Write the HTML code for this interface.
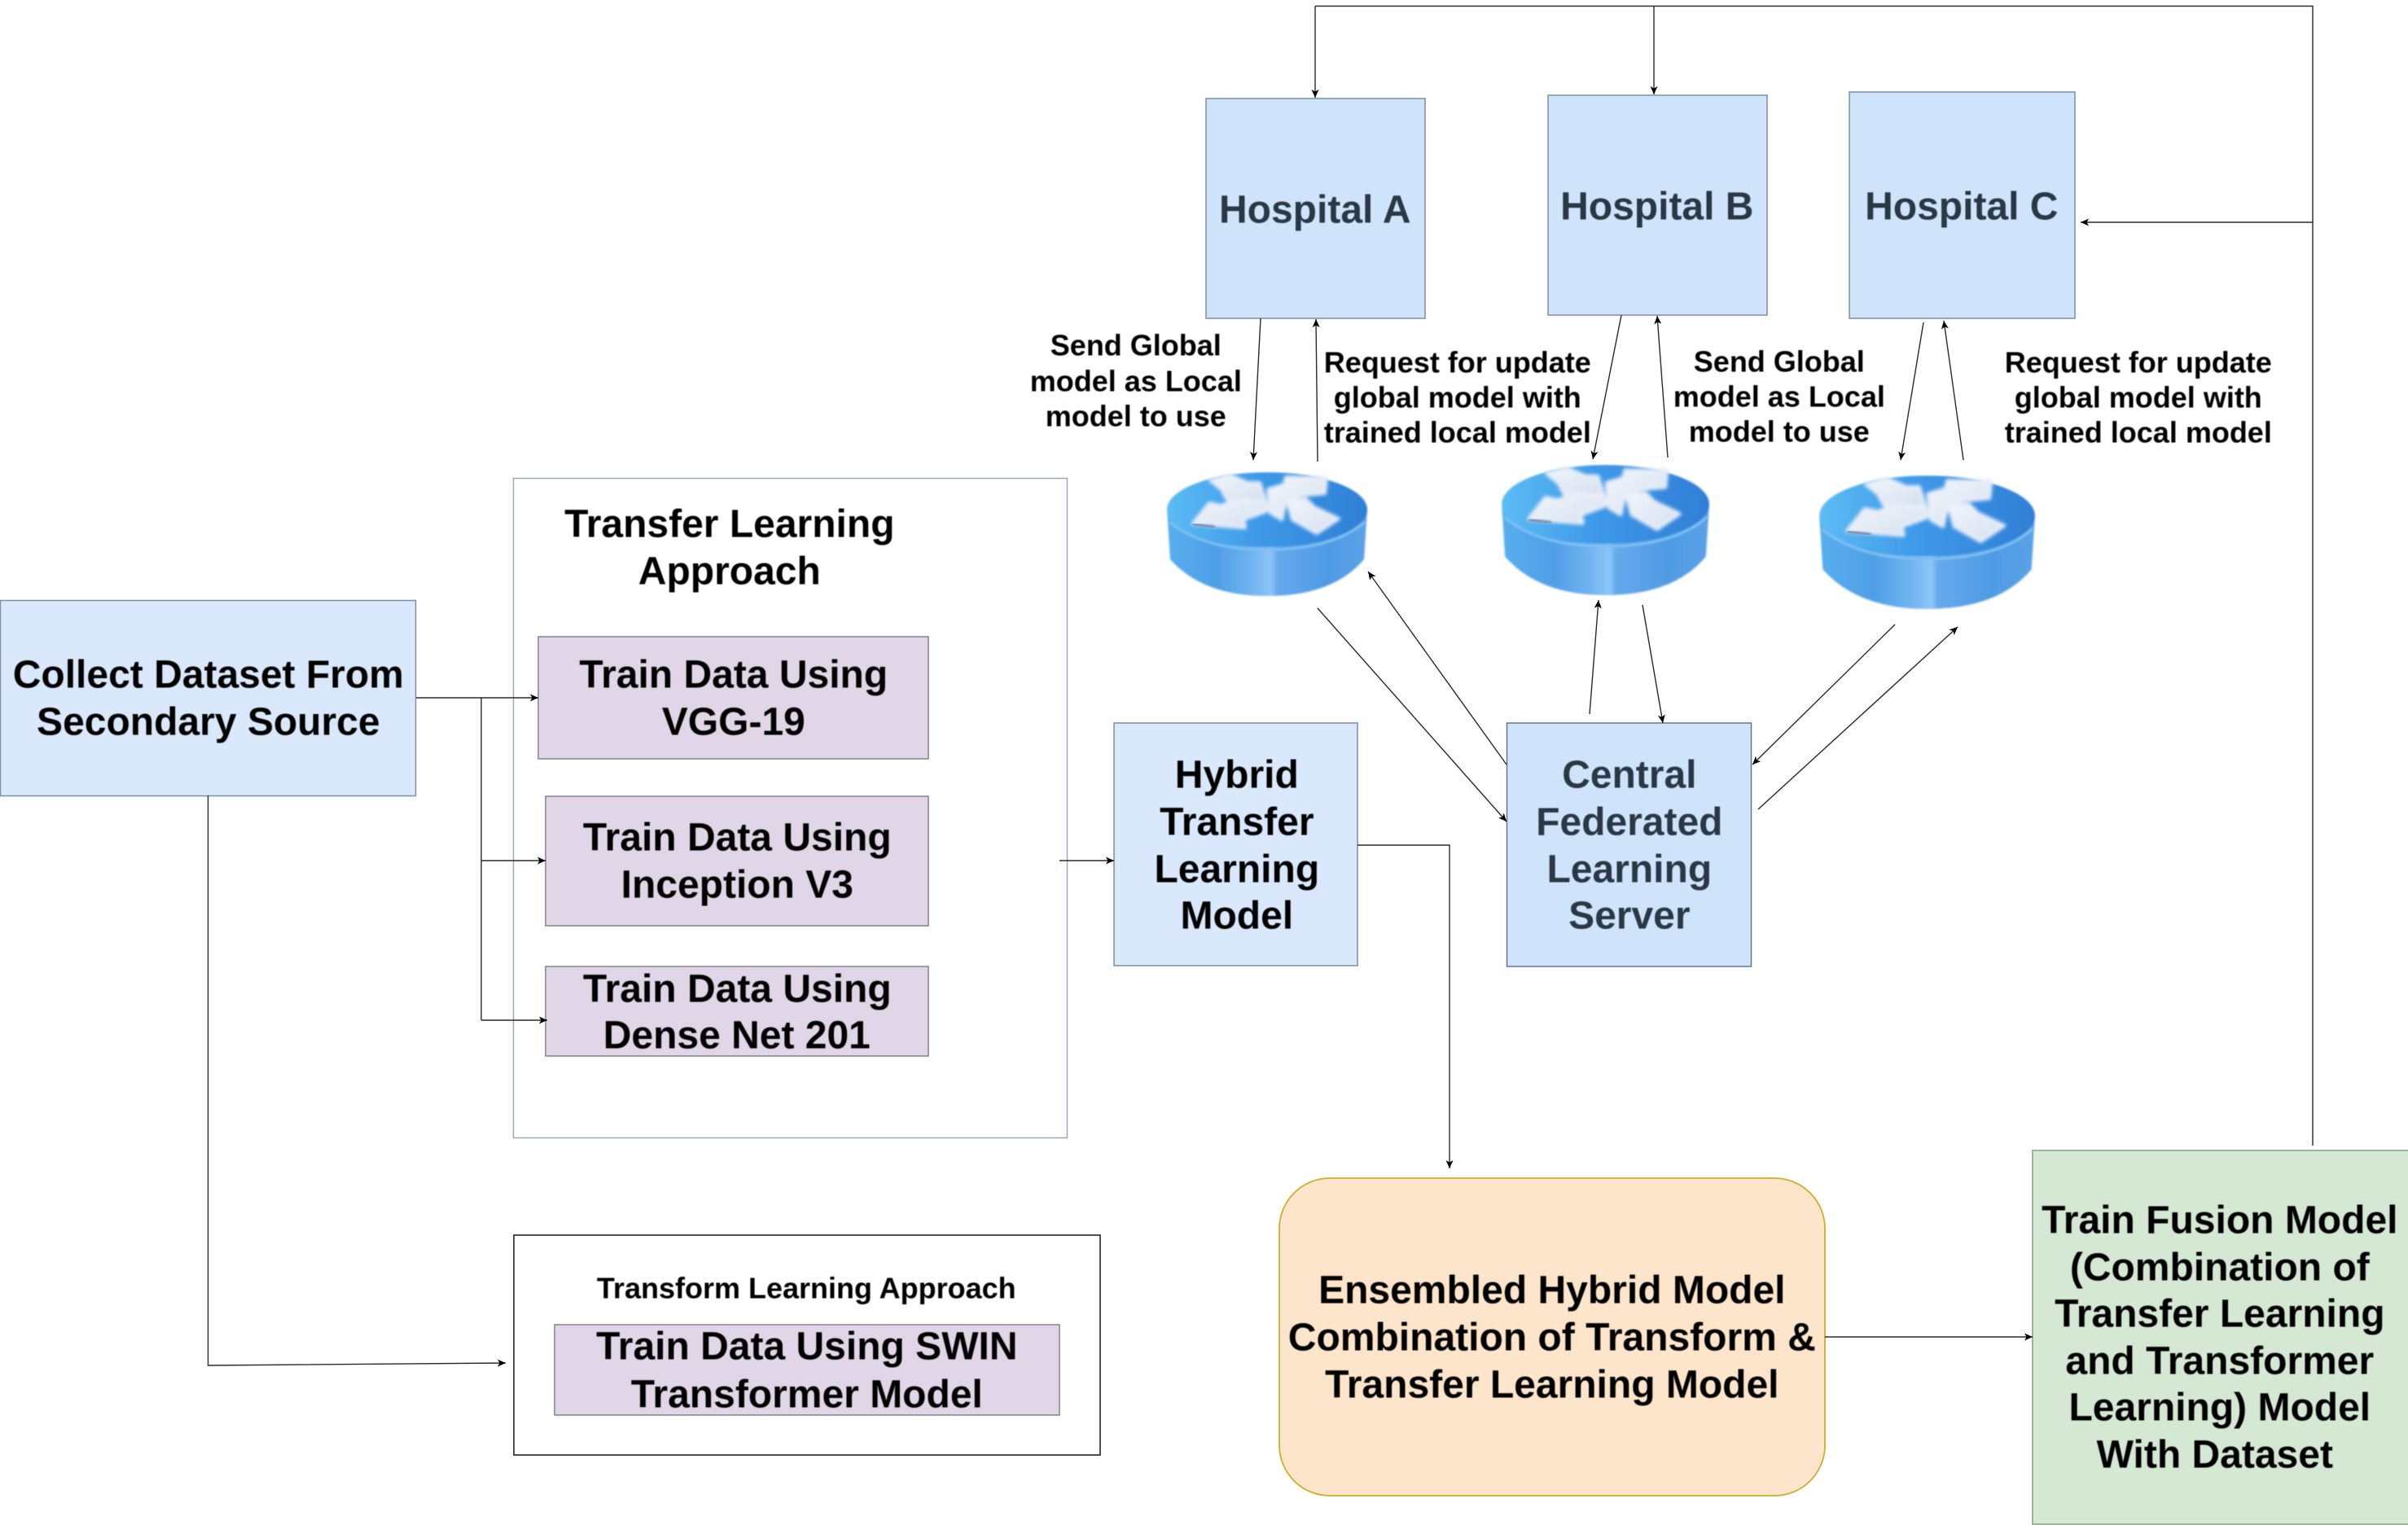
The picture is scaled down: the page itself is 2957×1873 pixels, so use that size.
<!DOCTYPE html>
<html><head><meta charset="utf-8"><style>
html,body{margin:0;padding:0;background:#fff;width:2957px;height:1873px;overflow:hidden}
svg{display:block}
text{font-family:"Liberation Sans",Arial,sans-serif;font-weight:bold;text-anchor:middle;font-size:48px;fill:#000}
.s{font-size:36px}
.d{fill:#2b3744}
.c{stroke:#2a2a2a;stroke-width:1.4;fill:none;marker-end:url(#a)}
.n{stroke:#2a2a2a;stroke-width:1.4;fill:none}
</style></head><body>
<svg width="2957" height="1873" viewBox="0 0 2957 1873" xmlns="http://www.w3.org/2000/svg">
<defs>
<marker id="a" markerUnits="userSpaceOnUse" markerWidth="12" markerHeight="12" refX="10" refY="4.500" orient="auto"><path d="M0,0 L10,4.500 L0,9 L2.500,4.500 Z" fill="#000"/></marker>
<linearGradient id="t" x1="0" x2="1" y1="0" y2="0"><stop offset="0" stop-color="#5cbcf4"/><stop offset=".45" stop-color="#3f99e8"/><stop offset="1" stop-color="#2f7fd6"/></linearGradient>
<linearGradient id="b" x1="0" x2="1" y1="0" y2="0"><stop offset="0" stop-color="#58aeee"/><stop offset=".25" stop-color="#4f9fe6"/><stop offset=".42" stop-color="#6fb3f0"/><stop offset=".52" stop-color="#8cc6f6"/><stop offset=".55" stop-color="#66a9ec"/><stop offset=".8" stop-color="#4f9be4"/><stop offset="1" stop-color="#5aa2e6"/></linearGradient>
<linearGradient id="w" x1="0" x2="1" y1="0" y2="1"><stop offset="0" stop-color="#f2f6fc"/><stop offset="1" stop-color="#d4dfee"/></linearGradient>
<filter id="f" x="-10%" y="-10%" width="120%" height="120%"><feGaussianBlur stdDeviation="2"/></filter>
<filter id="g" x="-20%" y="-20%" width="140%" height="140%"><feGaussianBlur stdDeviation="1"/></filter>
<filter id="tb" x="-2%" y="-2%" width="104%" height="104%"><feGaussianBlur stdDeviation="0.5"/></filter>
<symbol id="r" viewBox="0 0 248 154" preserveAspectRatio="none">
<g filter="url(#g)">
<path d="M1,47 L5,108 Q45,153 124,153 Q205,153 243,108 L247,47 Z" fill="url(#b)"/>
<ellipse cx="124" cy="47" rx="123" ry="46" fill="url(#t)"/>
<path d="M4,62 Q45,96 124,96 Q205,96 244,62" fill="none" stroke="#7cc0f4" stroke-width="3"/>
</g>
<g fill="url(#w)" stroke="#e8eef8" stroke-width="4" stroke-linejoin="round" filter="url(#f)">
<polygon points="54,11 78,4 100,14 115,14 122,37 75,35 68,22"/>
<polygon points="125,41 123,49 95,59 97,69 33,64 53,39 67,42 92,34"/>
<polygon points="125,22 145,16 147,7 197,7 195,27 148,31 142,59 128,51"/>
<polygon points="148,34 172,34 182,44 212,58 185,76 155,59"/>
</g>
<path d="M33,65 L60,68" stroke="#7c88b0" stroke-width="3" filter="url(#g)"/>
</symbol>
</defs>

<!-- main boxes -->
<rect x="0.5" y="737.5" width="510" height="240" fill="#dae8fb" stroke="#7f8ea5" stroke-width="1.5"/>
<rect x="630.5" y="587.5" width="680" height="810" fill="#fff" stroke="#a0a7b3" stroke-width="1.5"/>
<rect x="661" y="782" width="479" height="150" fill="#e1d6e7" stroke="#858290" stroke-width="1.5"/>
<rect x="670" y="978" width="470" height="159" fill="#e1d6e7" stroke="#858290" stroke-width="1.5"/>
<rect x="670" y="1187" width="470" height="110" fill="#e1d6e7" stroke="#858290" stroke-width="1.5"/>
<rect x="1368" y="888" width="299" height="298" fill="#dae8fb" stroke="#7f8ea5" stroke-width="1.5"/>
<rect x="1850.500" y="888" width="300" height="299" fill="#cfe4fb" stroke="#66758a" stroke-width="1.5"/>
<rect x="1481" y="121" width="269" height="270" fill="#cfe4fb" stroke="#7f8ea5" stroke-width="1.5"/>
<rect x="1901" y="117" width="269" height="270" fill="#cfe4fb" stroke="#7f8ea5" stroke-width="1.5"/>
<rect x="2271" y="113" width="277" height="278" fill="#cfe4fb" stroke="#7f8ea5" stroke-width="1.5"/>
<rect x="631" y="1517" width="720" height="270" fill="#fff" stroke="#222" stroke-width="1.6"/>
<rect x="681" y="1627" width="620" height="111" fill="#e1d6e7" stroke="#858290" stroke-width="1.5"/>
<rect x="1571" y="1447" width="670" height="390" rx="62" ry="62" fill="#fde5cb" stroke="#d0ad2c" stroke-width="1.8"/>
<rect x="2496" y="1413" width="470" height="459" fill="#d5e8d4" stroke="#9db59c" stroke-width="2"/>

<!-- routers -->
<use href="#r" x="1432" y="579" width="248" height="154"/>
<use href="#r" x="1843" y="570" width="257" height="162"/>
<use href="#r" x="2233" y="583" width="267" height="166"/>

<!-- connectors -->
<path class="n" d="M2840,1407 V7.500 H1615"/>
<path class="c" d="M1615,7.500 V120"/>
<path class="c" d="M2031,7.500 V116"/>
<path class="c" d="M2840,273 H2555"/>
<path class="c" d="M1548,391 L1539,565"/>
<path class="c" d="M1618,567 L1616,392"/>
<path class="c" d="M1991,387 L1956,564"/>
<path class="c" d="M2048,562 L2035,388"/>
<path class="c" d="M2362,396 L2334,565"/>
<path class="c" d="M2411,565 L2387,394"/>
<path class="c" d="M1618,747 L1850,1009"/>
<path class="c" d="M1850,939 L1680,702"/>
<path class="c" d="M1952,877 L1963,737"/>
<path class="c" d="M2017,743 L2042,888"/>
<path class="c" d="M2327,767 L2152,939"/>
<path class="c" d="M2159,994 L2404,770"/>
<path class="c" d="M511,857 H661"/>
<path class="n" d="M591,857 V1253"/>
<path class="c" d="M591,1057 H670"/>
<path class="c" d="M591,1253 H672"/>
<path class="c" d="M1301,1057 H1368"/>
<path class="c" d="M255.500,977 V1677 L621,1674"/>
<path class="c" d="M1667,1038 H1780 V1435"/>
<path class="c" d="M2241,1642 H2496"/>

<!-- text -->
<g transform="translate(0.800,0.400)" filter="url(#tb)">
<text x="255" y="844">Collect Dataset From</text><text x="255" y="902">Secondary Source</text>
<text x="895" y="659">Transfer Learning</text><text x="895" y="717">Approach</text>
<text x="900" y="844">Train Data Using</text><text x="900" y="902">VGG-19</text>
<text x="904.500" y="1044">Train Data Using</text><text x="904.500" y="1102">Inception V3</text>
<text x="904.500" y="1230">Train Data Using</text><text x="904" y="1287">Dense Net 201</text>
<text x="1518" y="967">Hybrid</text><text x="1518" y="1025">Transfer</text><text x="1518" y="1083">Learning</text><text x="1518" y="1140">Model</text>
<text class="d" x="2000" y="967">Central</text><text class="d" x="2000" y="1025">Federated</text><text class="d" x="2000" y="1083">Learning</text><text class="d" x="2000" y="1140">Server</text>
<text class="d" x="1614" y="273">Hospital A</text>
<text class="d" x="2034" y="269">Hospital B</text>
<text class="d" x="2408" y="269">Hospital C</text>
<text class="s" x="1394" y="436">Send Global</text><text class="s" x="1394" y="480">model as Local</text><text class="s" x="1394" y="523">model to use</text>
<text class="s" x="1789" y="457">Request for update</text><text class="s" x="1789" y="500">global model with</text><text class="s" x="1789" y="543">trained local model</text>
<text class="s" x="2184" y="456">Send Global</text><text class="s" x="2184" y="499">model as Local</text><text class="s" x="2184" y="542">model to use</text>
<text class="s" x="2625" y="457">Request for update</text><text class="s" x="2625" y="500">global model with</text><text class="s" x="2625" y="543">trained local model</text>
<text class="s" x="989.500" y="1594">Transform Learning Approach</text>
<text x="990" y="1669">Train Data Using SWIN</text><text x="990" y="1728">Transformer Model</text>
<text x="1905" y="1600">Ensembled Hybrid Model</text><text x="1905" y="1658">Combination of Transform &amp;</text><text x="1905" y="1716">Transfer Learning Model</text>
<text x="2725" y="1514">Train Fusion Model</text><text x="2725" y="1572">(Combination of</text><text x="2725" y="1629">Transfer Learning</text><text x="2725" y="1687">and Transformer</text><text x="2725" y="1744">Learning) Model</text><text x="2719" y="1802">With Dataset</text>
</g>
</svg>
</body></html>
